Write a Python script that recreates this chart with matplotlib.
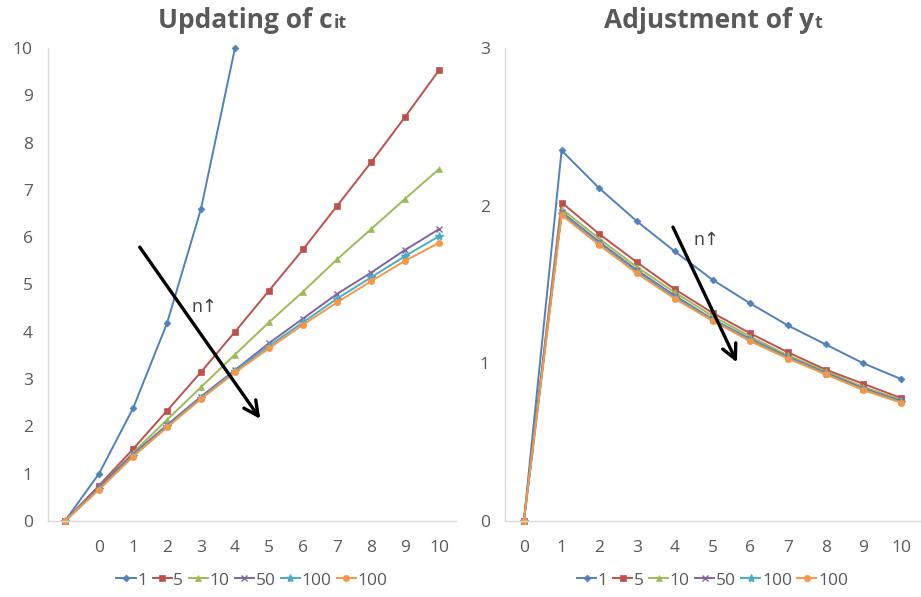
import matplotlib
matplotlib.use("Agg")
import matplotlib.pyplot as plt

plt.rcParams["font.family"] = ["Open Sans", "DejaVu Sans"]

# ---- data ----
series_names = ["1", "5", "10", "50", "100", "100"]
colors = ["#4F81BD", "#C0504D", "#9BBB59", "#8064A2", "#4BACC6", "#F79646"]
markers = ["D", "s", "^", "x", "*", "o"]
msizes = [3.5, 4.5, 5, 5, 6, 4.5]

# left: updating of c_it (first category has an empty label)
c_labels = ["", "0", "1", "2", "3", "4", "5", "6", "7", "8", "9", "10"]
c_n1 = [0, 1.0, 2.38, 4.18, 6.6, 10.0]
c_n5 = [0, 0.75, 1.52, 2.33, 3.15, 4.0, 4.87, 5.74, 6.66, 7.58, 8.54, 9.53]
c_n10 = [0, 0.72, 1.44, 2.14, 2.83, 3.52, 4.2, 4.85, 5.53, 6.17, 6.81, 7.44]
c_n50 = [0, 0.72, 1.41, 2.03, 2.63, 3.19, 3.76, 4.28, 4.8, 5.25, 5.73, 6.17]
c_n100 = [0, 0.68, 1.38, 2.0, 2.6, 3.17, 3.7, 4.2, 4.7, 5.15, 5.6, 6.02]
c_n100b = [0, 0.66, 1.36, 1.98, 2.58, 3.14, 3.65, 4.15, 4.62, 5.07, 5.5, 5.88]

# right: adjustment of y_t
y_labels = ["0", "1", "2", "3", "4", "5", "6", "7", "8", "9", "10"]
y_n1 = [0, 2.35, 2.11, 1.90, 1.71, 1.53, 1.38, 1.24, 1.12, 1.00, 0.90]
y_n5 = [0, 2.02, 1.82, 1.64, 1.47, 1.32, 1.19, 1.07, 0.96, 0.87, 0.78]
y_n10 = [0, 1.98, 1.79, 1.61, 1.45, 1.30, 1.17, 1.05, 0.95, 0.85, 0.77]
y_n50 = [0, 1.96, 1.77, 1.59, 1.43, 1.28, 1.155, 1.04, 0.94, 0.84, 0.76]
y_n100 = [0, 1.95, 1.76, 1.58, 1.42, 1.275, 1.15, 1.035, 0.935, 0.835, 0.755]
y_n100b = [0, 1.94, 1.75, 1.57, 1.41, 1.27, 1.14, 1.03, 0.93, 0.83, 0.75]

GRAY = "#595959"
AXIS = "#D9D9D9"

fig = plt.figure(figsize=(9.21, 5.97), dpi=100)
ax1 = fig.add_axes([48 / 921, 76 / 597, 408 / 921, 473 / 597])
ax2 = fig.add_axes([505 / 921, 76 / 597, 415 / 921, 473 / 597])


def style_axis(ax, labels, ymax):
    for s in ("top", "right"):
        ax.spines[s].set_visible(False)
    for s in ("left", "bottom"):
        ax.spines[s].set_color(AXIS)
        ax.spines[s].set_linewidth(1.0)
    ax.set_xticks(range(len(labels)))
    ax.set_xticklabels(labels)
    ax.set_xlim(-0.5, len(labels) - 0.5)
    ax.set_ylim(0, ymax)
    ax.set_yticks(range(0, ymax + 1))
    ax.tick_params(length=0, labelsize=12.5, colors=GRAY)
    ax.tick_params(axis="x", pad=14)
    ax.tick_params(axis="y", pad=11)


def draw_series(ax, data):
    for vals, name, c, m, ms in zip(data, series_names, colors, markers, msizes):
        ax.plot(range(len(vals)), vals, color=c, marker=m, markersize=ms,
                markeredgewidth=1.0 if m in "x*" else 0.5, lw=1.4, label=name,
                clip_on=False)
    ax.legend(loc="upper center", bbox_to_anchor=(0.5, -0.094), ncol=6,
              frameon=False, fontsize=12.5, labelcolor=GRAY, handlelength=1.1,
              handletextpad=0.1, columnspacing=0.3, borderaxespad=0)


draw_series(ax1, [c_n1, c_n5, c_n10, c_n50, c_n100, c_n100b])
style_axis(ax1, c_labels, 10)
draw_series(ax2, [y_n1, y_n5, y_n10, y_n50, y_n100, y_n100b])
style_axis(ax2, y_labels, 3)

arrow = dict(arrowstyle="->", lw=2.4, color="black", mutation_scale=26)
ax1.annotate("", xy=(5.79, 2.11), xytext=(2.15, 5.84), arrowprops=arrow)
ax1.text(4.1, 4.52, "n↑", fontsize=13, color="#404040", ha="center", va="center")
ax2.annotate("", xy=(5.68, 0.99), xytext=(3.92, 1.88), arrowprops=arrow)
ax2.text(4.84, 1.78, "n↑", fontsize=13, color="#404040", ha="center", va="center")


# titles: main part plus a smaller "subscript" on the same baseline
def title(ax, main, sub):
    fig.canvas.draw()
    r = fig.canvas.get_renderer()
    bb = ax.get_position()
    cx = (bb.x0 + bb.x1) / 2 * fig.bbox.width
    base = fig.bbox.height - 28
    t1 = fig.text(0, base / fig.bbox.height, main, fontsize=19, fontweight="bold",
                  color=GRAY, va="baseline", ha="left")
    t2 = fig.text(0, base / fig.bbox.height, sub, fontsize=13, fontweight="bold",
                  color=GRAY, va="baseline", ha="left")
    w1 = t1.get_window_extent(r).width
    w2 = t2.get_window_extent(r).width
    x0 = cx - (w1 + w2) / 2
    t1.set_x(x0 / fig.bbox.width)
    t2.set_x((x0 + w1 + 1) / fig.bbox.width)


title(ax1, "Updating of c", "it")
title(ax2, "Adjustment of y", "t")

fig.savefig("out.png", dpi=100)
